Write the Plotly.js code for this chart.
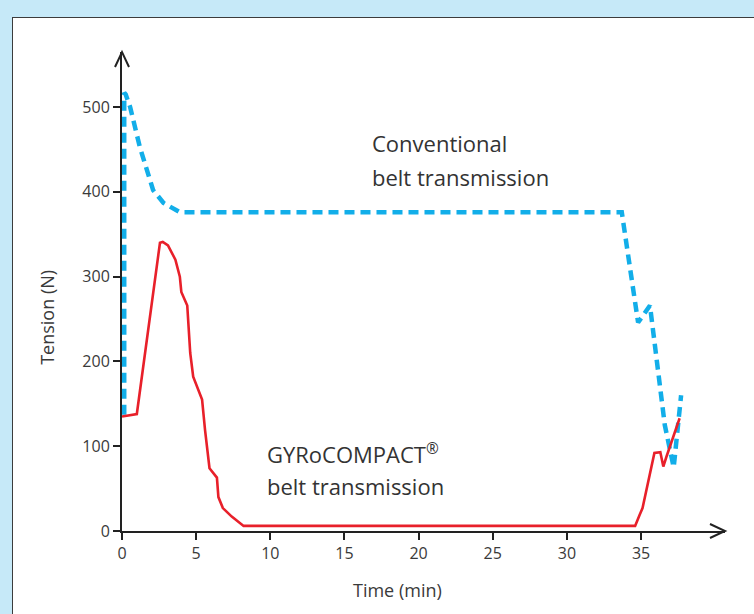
<!DOCTYPE html>
<html>
<head>
<meta charset="utf-8">
<script src="https://cdn.plot.ly/plotly-3.0.1.min.js"></script>
<style>
  html, body { margin: 0; padding: 0; }
  body { width: 754px; height: 614px; background: #c6e9f8; position: relative; overflow: hidden; }
  #panel { position: absolute; left: 12px; top: 17px; width: 760px; height: 620px; background: #ffffff; border-left: 1.5px solid #3c3c3c; border-top: 1.5px solid #3c3c3c; }
  #chart { position: absolute; left: 0; top: 0; width: 754px; height: 614px; }
</style>
</head>
<body>
<div id="panel"></div>
<div id="chart"></div>
<script>
// Conventional belt transmission (blue dashed)
const convTime    = [0.15, 0.15, 0.25, 0.55, 1.2, 1.7, 2.1, 2.8, 3.9, 33.7, 34.8, 35.6, 36.6, 37.2, 37.7];
const convTension = [137,  517,  515,  500,  453, 426, 402, 387, 376, 376,  246,  266,  125,  75,   160];

// GYRoCOMPACT belt transmission (red solid)
const gyroTime    = [0, 1.0, 2.56, 2.75, 3.1, 3.6, 3.9, 4.0, 4.4, 4.6, 4.8, 5.4, 5.6, 5.9, 6.4, 6.5, 6.8, 7.4, 8.2, 34.6, 34.9, 35.1, 35.9, 36.3, 36.5, 36.7, 37.6];
const gyroTension = [135, 138, 340, 341, 337, 320, 300, 282, 266, 210, 182, 155, 119, 74, 63, 40, 27, 17, 6, 6, 19, 27, 92, 93, 76, 87, 133];

const xTicks = [0, 5, 10, 15, 20, 25, 30, 35];
const yTicks = [0, 100, 200, 300, 400, 500];

const textFont = 'Open Sans, DejaVu Sans, sans-serif';

const traces = [
  { x: convTime, y: convTension, mode: 'lines', type: 'scatter',
    line: { color: '#12aee9', width: 4.5, dash: '10px,6px' }, hoverinfo: 'skip' },
  { x: gyroTime, y: gyroTension, mode: 'lines', type: 'scatter',
    line: { color: '#e8202a', width: 2.6 }, hoverinfo: 'skip' }
];

const layout = {
  width: 754, height: 614,
  margin: { l: 122, r: 29, t: 52, b: 83 },
  paper_bgcolor: 'rgba(0,0,0,0)',
  plot_bgcolor: 'rgba(0,0,0,0)',
  showlegend: false,
  font: { family: textFont, color: '#3a3a3a' },
  xaxis: {
    range: [0, 40.66], tickvals: xTicks, ticktext: xTicks.map(String),
    showgrid: false, zeroline: false, showline: true, linecolor: '#222', linewidth: 2,
    ticks: 'outside', ticklen: 7, tickwidth: 2, tickcolor: '#222',
    tickfont: { size: 16, color: '#3a3a3a', family: textFont }
  },
  yaxis: {
    range: [0, 565], tickvals: yTicks, ticktext: yTicks.map(String),
    showgrid: false, zeroline: false, showline: true, linecolor: '#222', linewidth: 2,
    ticks: 'outside', ticklen: 7, tickwidth: 2, tickcolor: '#222',
    tickfont: { size: 16, color: '#3a3a3a', family: textFont }
  },
  shapes: [
    { type: 'path', xref: 'paper', yref: 'paper', xsizemode: 'pixel', ysizemode: 'pixel',
      xanchor: 0, yanchor: 1, path: 'M -7 -15 L 0 0 L 7 -15',
      line: { color: '#222', width: 2 } },
    { type: 'path', xref: 'paper', yref: 'paper', xsizemode: 'pixel', ysizemode: 'pixel',
      xanchor: 1, yanchor: 0, path: 'M -15 7 L 0 0 L -15 -7',
      line: { color: '#222', width: 2 } }
  ],
  annotations: [
    { x: 16.72, y: 457.5, xref: 'x', yref: 'y', xanchor: 'left', yanchor: 'middle', showarrow: false,
      text: 'Conventional', font: { size: 22, color: '#333', family: textFont } },
    { x: 16.72, y: 417.5, xref: 'x', yref: 'y', xanchor: 'left', yanchor: 'middle', showarrow: false,
      text: 'belt transmission', font: { size: 22, color: '#333', family: textFont } },
    { x: 9.64, y: 92, xref: 'x', yref: 'y', xanchor: 'left', yanchor: 'middle', showarrow: false,
      text: 'GYRoCOMPACT<sup>®</sup>', font: { size: 22, color: '#333', family: textFont } },
    { x: 9.64, y: 53, xref: 'x', yref: 'y', xanchor: 'left', yanchor: 'middle', showarrow: false,
      text: 'belt transmission', font: { size: 22, color: '#333', family: textFont } },
    { x: 18.6, y: 0, xref: 'x', yref: 'paper', xanchor: 'center', yanchor: 'middle', showarrow: false,
      yshift: -59, text: 'Time (min)', font: { size: 18, color: '#3a3a3a', family: textFont } },
    { x: 0, y: 0.445, xref: 'paper', yref: 'paper', xanchor: 'center', yanchor: 'middle', showarrow: false,
      xshift: -75, textangle: -90, text: 'Tension (N)', font: { size: 18, color: '#3a3a3a', family: textFont } }
  ]
};

Plotly.newPlot('chart', traces, layout, { staticPlot: true, displayModeBar: false });
</script>
</body>
</html>
